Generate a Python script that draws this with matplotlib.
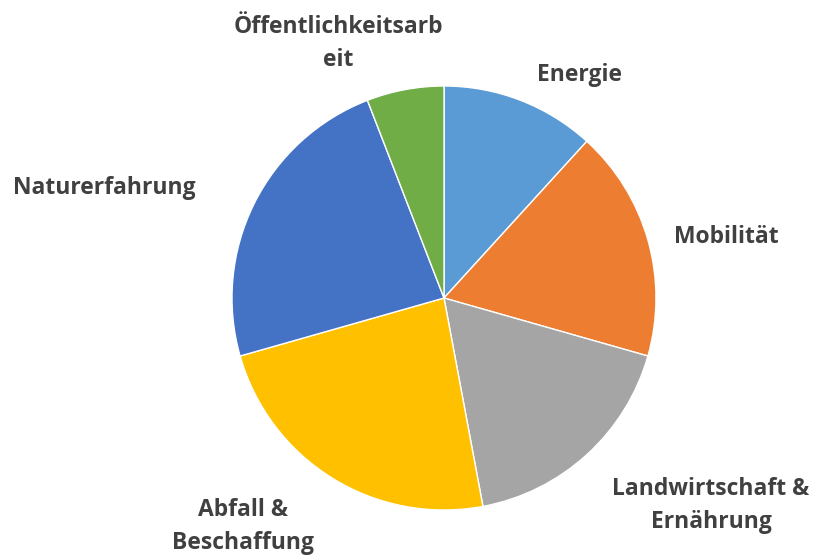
import matplotlib.pyplot as plt

# Themenbereiche (Anzahl)
labels = ['Energie', 'Mobilität', 'Landwirtschaft &\nErnährung',
          'Abfall &\nBeschaffung', 'Naturerfahrung', 'Öffentlichkeitsarb\neit']
values = [2, 3, 3, 4, 4, 1]
colors = ['#5B9BD5', '#ED7D31', '#A5A5A5', '#FFC000', '#4472C4', '#70AD47']

# label positions in pie-radius units
label_pos = [(0.64, 1.05), (1.33, 0.29), (1.26, -0.98),
             (-0.95, -1.08), (-1.60, 0.52), (-0.50, 1.20)]

fig = plt.figure(figsize=(8.16, 5.59), dpi=100)
ax = fig.add_axes([232/816, 49/559, 424/816, 424/559])

wedges, _ = ax.pie(values, colors=colors, startangle=90, counterclock=False,
                   wedgeprops=dict(linewidth=1, edgecolor='white'))
ax.set_xlim(-1, 1)
ax.set_ylim(-1, 1)
ax.set_aspect('equal')

for lab, (x, y) in zip(labels, label_pos):
    ax.text(x, y, lab, ha='center', va='center', fontsize=16.5, fontweight='bold',
            color='#404040', family='Open Sans', linespacing=1.5, clip_on=False)

fig.savefig('out.png', dpi=100)
